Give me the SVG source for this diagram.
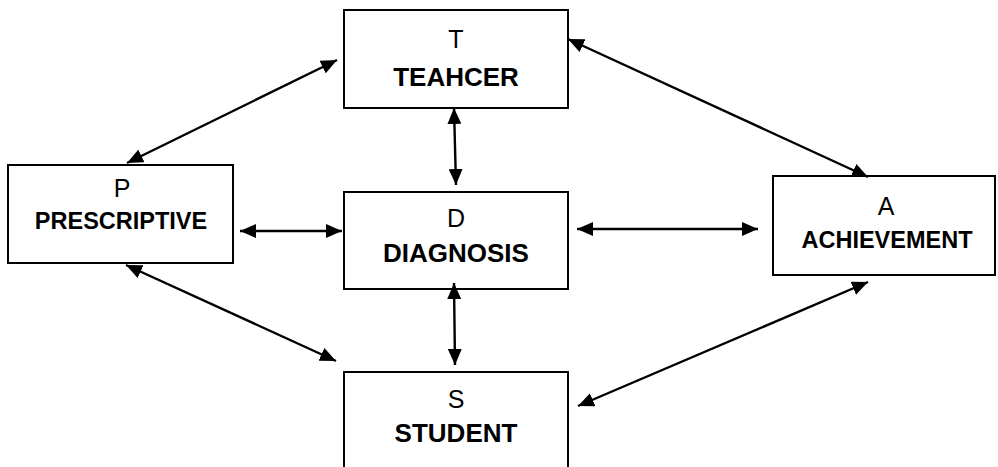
<svg xmlns="http://www.w3.org/2000/svg" width="998" height="467" viewBox="0 0 998 467">
<style>
.box{fill:#fff;stroke:#000;stroke-width:2}
.t{font-family:"Liberation Sans",Arial,sans-serif;font-size:25px;text-anchor:middle;fill:#000}
.b{font-weight:bold}
.m{font-size:26px}
.s{font-size:23.5px}
.c{stroke:#000;stroke-width:2.4;fill:none;marker-start:url(#ah);marker-end:url(#ah)}
</style>
<defs>
<marker id="ah" markerUnits="userSpaceOnUse" viewBox="0 0 16 14" markerWidth="16" markerHeight="14" refX="16" refY="7" orient="auto-start-reverse">
<path d="M0,0 L16,7 L0,14 z" fill="#000"/>
</marker>
</defs>
<rect width="998" height="467" fill="#fff"/>
<g id="T"><rect class="box" x="344" y="10" width="224" height="98"/><text class="t" x="456" y="48">T</text><text class="t b m" x="456" y="86">TEAHCER</text></g>
<g id="P"><rect class="box" x="8" y="165" width="225" height="98"/><text class="t" x="122" y="197">P</text><text class="t b s" x="121" y="229">PRESCRIPTIVE</text></g>
<g id="D"><rect class="box" x="344" y="192" width="224" height="97"/><text class="t" x="456" y="227">D</text><text class="t b m" x="456" y="262">DIAGNOSIS</text></g>
<g id="A"><rect class="box" x="773" y="176" width="222" height="99"/><text class="t" x="886" y="215">A</text><text class="t b s" x="887" y="248">ACHIEVEMENT</text></g>
<g id="S"><rect class="box" x="344" y="372" width="224" height="110"/><text class="t" x="456" y="408">S</text><text class="t b m" x="456" y="442">STUDENT</text></g>
<g id="connectors">
<line class="c" x1="127" y1="163" x2="337" y2="60"/>
<line class="c" x1="568" y1="39" x2="868" y2="177"/>
<line class="c" x1="454" y1="108" x2="456" y2="185"/>
<line class="c" x1="240" y1="231" x2="342" y2="231"/>
<line class="c" x1="577" y1="229" x2="758" y2="229"/>
<line class="c" x1="454" y1="283" x2="455" y2="365"/>
<line class="c" x1="126" y1="265" x2="336" y2="361"/>
<line class="c" x1="578" y1="406" x2="868" y2="282"/>
</g>
</svg>
